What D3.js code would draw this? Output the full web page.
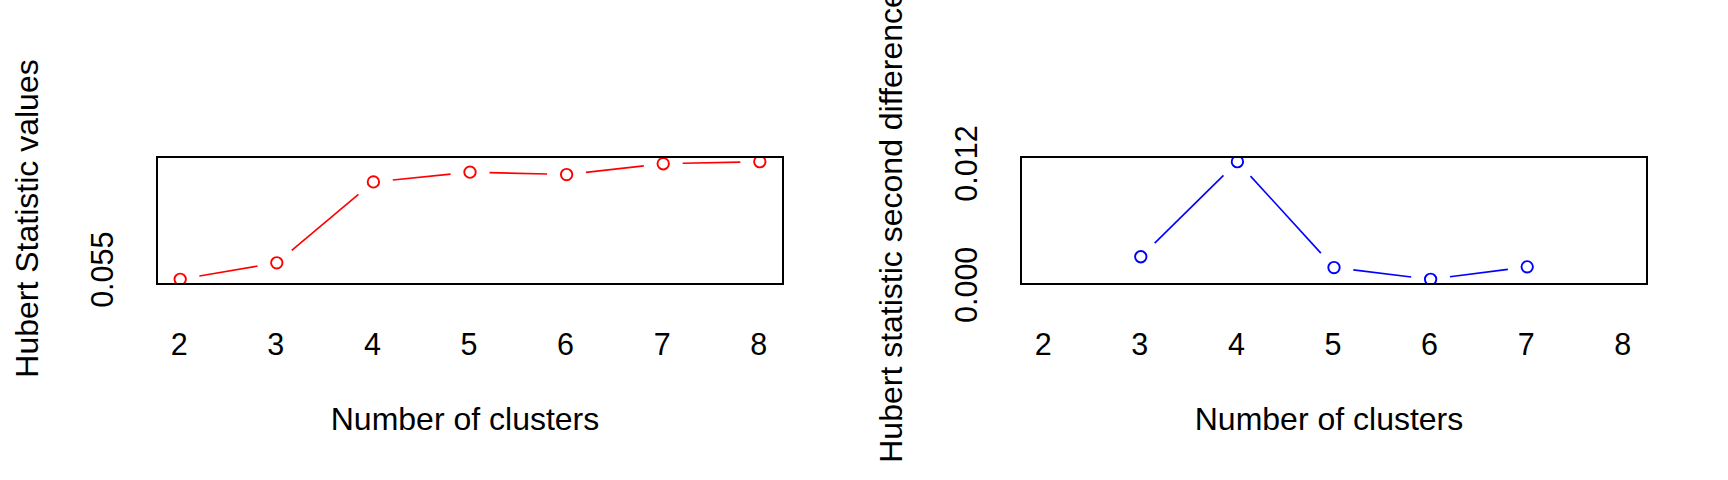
<!DOCTYPE html>
<html>
<head>
<meta charset="utf-8">
<script src="https://cdn.jsdelivr.net/npm/d3@7"></script>
<style>
  html, body { margin: 0; padding: 0; background: #ffffff; }
  svg { display: block; }
  text { font-family: "Liberation Sans", Arial, sans-serif; fill: #000; }
</style>
</head>
<body>
<svg id="chart" width="1728" height="480"></svg>
<script>
// ---- data ----
const clusters = [2, 3, 4, 5, 6, 7, 8];
const hubertValues = [0.05375, 0.05579, 0.06579, 0.0670, 0.0667, 0.06804, 0.06829];
const diffClusters = [3, 4, 5, 6, 7];
const hubertSecondDiff = [0.00273, 0.01213, 0.00166, 0.0005, 0.00173];
const xTicks = [2, 3, 4, 5, 6, 7, 8];
const leftYTicks = [0.055];
const rightYTicks = [0.000, 0.012];
const xLabel = "Number of clusters";
const leftYLabel = "Hubert Statistic values";
const rightYLabel = "Hubert statistic second differences";

// ---- layout ----
const svg = d3.select("#chart");
const plotTop = 157, plotBottom = 284;

function rExpand(lo, hi) {
  const d = (hi - lo) * 0.04;
  return [lo - d, hi + d];
}

function panel(id, left, right, xs, ys, yTicks, yFormat, yLabel, color) {
  const x = d3.scaleLinear().domain(rExpand(d3.min(xTicks), d3.max(xTicks))).range([left, right]);
  const y = d3.scaleLinear().domain(rExpand(d3.min(ys), d3.max(ys))).range([plotBottom, plotTop]);
  const g = svg.append("g");

  svg.append("clipPath").attr("id", "clip" + id)
    .append("rect").attr("x", left).attr("y", plotTop)
    .attr("width", right - left).attr("height", plotBottom - plotTop);

  const pts = xs.map((k, i) => ({ x: x(k), y: y(ys[i]) }));
  const gap = 19.5;
  const marks = g.append("g").attr("clip-path", `url(#clip${id})`);
  for (let i = 0; i < pts.length - 1; i++) {
    const a = pts[i], b = pts[i + 1];
    const dx = b.x - a.x, dy = b.y - a.y, L = Math.hypot(dx, dy);
    if (L <= 2 * gap) continue;
    const ux = dx / L, uy = dy / L;
    marks.append("line")
      .attr("x1", a.x + ux * gap).attr("y1", a.y + uy * gap)
      .attr("x2", b.x - ux * gap).attr("y2", b.y - uy * gap)
      .attr("stroke", color).attr("stroke-width", 1.6);
  }
  marks.selectAll("circle").data(pts).join("circle")
    .attr("cx", d => d.x).attr("cy", d => d.y).attr("r", 5.7)
    .attr("fill", "none").attr("stroke", color).attr("stroke-width", 1.9);

  // box
  g.append("rect").attr("x", left).attr("y", plotTop)
    .attr("width", right - left).attr("height", plotBottom - plotTop)
    .attr("fill", "none").attr("stroke", "#000").attr("stroke-width", 2);

  // x axis labels
  const xa = g.append("g").attr("transform", `translate(0,${plotBottom})`)
    .call(d3.axisBottom(x).tickValues(xTicks).tickSize(0).tickFormat(d3.format("d")));
  xa.select(".domain").remove();
  xa.selectAll("text").attr("y", 354.5 - plotBottom).attr("dy", 0).attr("x", -1.5)
    .attr("fill", "#000")
    .style("font-size", "30.5px").style("font-family", '"Liberation Sans", Arial, sans-serif');

  // y axis labels (rotated, parallel to axis)
  const ya = g.append("g").attr("transform", `translate(${left},0)`)
    .call(d3.axisLeft(y).tickValues(yTicks).tickSize(0).tickFormat(yFormat));
  ya.select(".domain").remove();
  ya.selectAll("text")
    .attr("x", null).attr("dy", null)
    .attr("fill", "#000")
    .attr("text-anchor", "middle")
    .attr("transform", "translate(-44,0) rotate(-90)")
    .style("font-size", "30.5px").style("font-family", '"Liberation Sans", Arial, sans-serif');

  // titles
  g.append("text").attr("x", (left + right) / 2 - 5).attr("y", 430)
    .attr("text-anchor", "middle").style("font-size", "32px").text(xLabel);
  g.append("text")
    .attr("transform", `translate(${left - 119},${(plotTop + plotBottom) / 2 - 2}) rotate(-90)`)
    .attr("text-anchor", "middle").style("font-size", "32px").text(yLabel);
}

panel("L", 157, 783, clusters, hubertValues, leftYTicks, d3.format(".3f"), leftYLabel, "#ff0000");
panel("R", 1021, 1647, diffClusters, hubertSecondDiff, rightYTicks, d3.format(".3f"), rightYLabel, "#0000ff");
</script>
</body>
</html>
